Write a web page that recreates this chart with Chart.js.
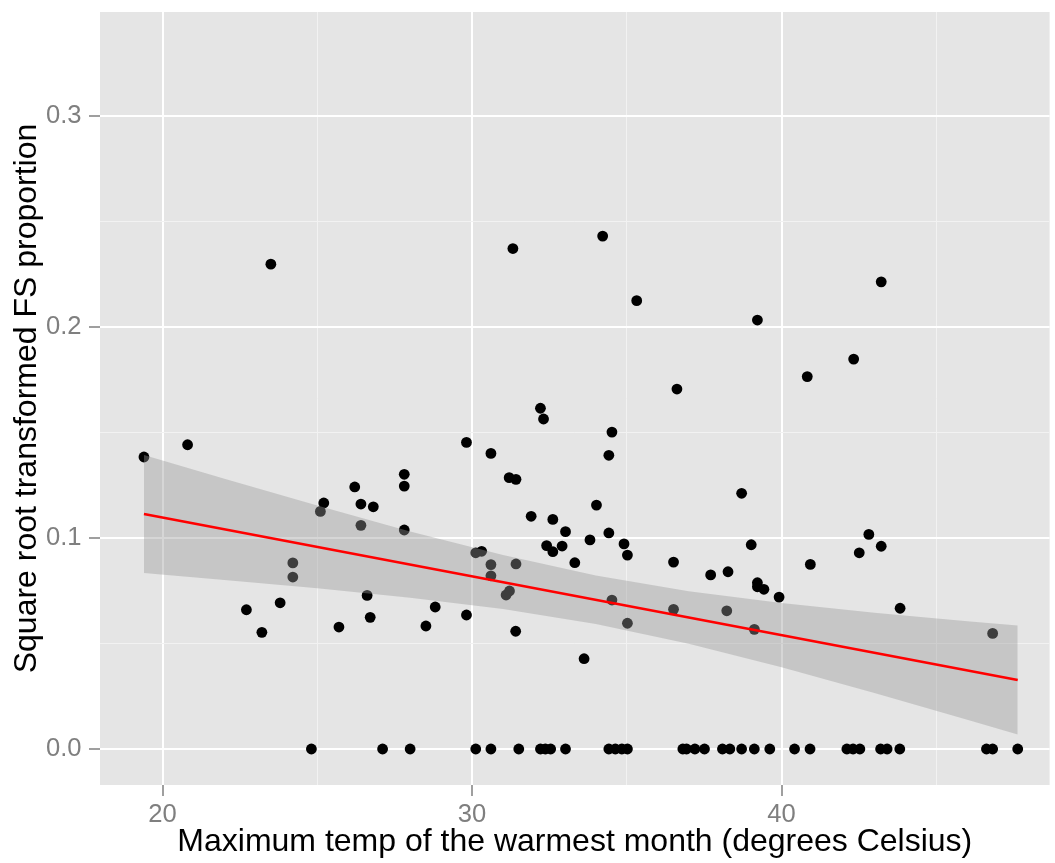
<!DOCTYPE html>
<html>
<head>
<meta charset="utf-8">
<script src="https://cdn.jsdelivr.net/npm/chart.js@4.4.1/dist/chart.umd.min.js"></script>
<style>
  html, body { margin: 0; padding: 0; background: #ffffff; }
  #wrap { width: 1055px; height: 863px; }
</style>
</head>
<body>
<div id="wrap"><canvas id="c" width="1055" height="863"></canvas></div>
<script>
// ---- Data ----
const pointX = [
  19.40, 20.81, 22.71, 23.21, 23.50, 23.80, 24.21, 24.21, 25.10, 25.21,
  25.70, 26.21, 26.41, 26.41, 26.61, 26.71, 26.81, 27.81, 27.81, 27.81,
  28.51, 28.81, 29.82, 29.82, 30.12, 30.31, 30.61, 30.61, 30.61, 31.10,
  31.21, 31.20, 31.42, 31.42, 31.41, 31.32, 31.91, 32.21, 32.31, 32.41,
  32.61, 32.61, 32.91, 33.02, 33.32, 33.62, 33.81, 34.02, 34.22, 34.42,
  34.42, 34.52, 34.52, 34.91, 35.02, 35.02, 35.32, 36.62, 36.51, 36.51,
  37.71, 38.27, 38.23, 38.71, 39.02, 39.12, 39.22, 39.22, 39.43, 39.22,
  39.92, 40.83, 40.93, 42.33, 42.51, 42.82, 43.22, 43.22, 43.83, 46.82,
  24.81, 27.11, 28.00, 30.12, 30.61, 31.51, 32.21, 32.37, 32.54, 33.02,
  34.42, 34.63, 34.84, 35.02, 36.81, 36.93, 37.20, 37.51, 38.09, 38.33,
  38.71, 39.12, 39.62, 40.42, 40.92, 42.11, 42.31, 42.53, 43.20, 43.41,
  43.82, 46.62, 46.82, 47.63
];
const pointY = [
  0.1384, 0.1442, 0.0660, 0.0553, 0.2298, 0.0693, 0.0882, 0.0815, 0.1126, 0.1166,
  0.0578, 0.1242, 0.1161, 0.1060, 0.0728, 0.0624, 0.1148, 0.1302, 0.1246, 0.1038,
  0.0583, 0.0673, 0.1453, 0.0635, 0.0930, 0.0937, 0.1401, 0.0874, 0.0821, 0.0730,
  0.0749, 0.1286, 0.1278, 0.0877, 0.0558, 0.2372, 0.1103, 0.1615, 0.1564, 0.0964,
  0.1088, 0.0935, 0.0962, 0.1030, 0.0883, 0.0428, 0.0991, 0.1156, 0.2431, 0.1392,
  0.1024, 0.1502, 0.0706, 0.0972, 0.0919, 0.0596, 0.2125, 0.1706, 0.0886, 0.0662,
  0.0825, 0.0840, 0.0655, 0.1212, 0.0968, 0.0567, 0.0788, 0.0769, 0.0757, 0.2033,
  0.0720, 0.1765, 0.0875, 0.1848, 0.0930, 0.1017, 0.0961, 0.2214, 0.0667, 0.0548,
  0, 0, 0, 0, 0, 0, 0, 0, 0, 0,
  0, 0, 0, 0, 0, 0, 0, 0, 0, 0,
  0, 0, 0, 0, 0, 0, 0, 0, 0, 0,
  0, 0, 0, 0
];
const fitX = [19.40, 47.63];
const fitY = [0.1114, 0.0327];
const bandX     = [19.40, 22.00, 25.00, 28.00, 31.00, 34.00, 37.00, 40.00, 43.00, 46.00, 47.63];
const bandUpper = [0.1394, 0.1281, 0.1154, 0.1031, 0.0919, 0.0822, 0.0748, 0.0692, 0.0646, 0.0605, 0.0585];
const bandLower = [0.0834, 0.0801, 0.0762, 0.0717, 0.0663, 0.0592, 0.0499, 0.0388, 0.0266, 0.0139, 0.0069];
const xTickValues = [20, 25, 30, 35, 40, 45];
const xTickLabels = ['20', '', '30', '', '40', ''];
const yTickValues = [0, 0.05, 0.1, 0.15, 0.2, 0.25, 0.3];
const yTickLabels = ['0.0', '', '0.1', '', '0.2', '', '0.3'];
const xTitle = 'Maximum temp of the warmest month (degrees Celsius)';
const yTitle = 'Square root transformed FS proportion';

// ---- Build datasets ----
const pts = pointX.map((x, i) => ({ x: x, y: pointY[i] }));
const fitPts = fitX.map((x, i) => ({ x: x, y: fitY[i] }));
const upPts = bandX.map((x, i) => ({ x: x, y: bandUpper[i] }));
const loPts = bandX.map((x, i) => ({ x: x, y: bandLower[i] }));

const FONT = "'Liberation Sans', Arial, Helvetica, sans-serif";
const GREY50 = '#7F7F7F';

const panelBg = {
  id: 'panelBg',
  beforeDraw(chart) {
    const a = chart.chartArea, ctx = chart.ctx;
    ctx.save();
    ctx.fillStyle = '#E5E5E5';
    ctx.fillRect(a.left, a.top, a.right - a.left, a.bottom - a.top);
    ctx.restore();
  }
};

function isMajor(labels, idx) { return labels[idx] !== ''; }

new Chart(document.getElementById('c'), {
  type: 'scatter',
  data: {
    datasets: [
      {
        type: 'line', data: fitPts, borderColor: '#FF0000', borderWidth: 2.6,
        pointRadius: 0, fill: false, order: 1, tension: 0
      },
      {
        type: 'line', data: upPts, borderWidth: 0, borderColor: 'rgba(0,0,0,0)',
        backgroundColor: 'rgba(153,153,153,0.4)', pointRadius: 0,
        fill: '+1', order: 2, tension: 0
      },
      {
        type: 'line', data: loPts, borderWidth: 0, borderColor: 'rgba(0,0,0,0)',
        pointRadius: 0, fill: false, order: 2, tension: 0
      },
      {
        type: 'scatter', data: pts, backgroundColor: '#000000', borderWidth: 0,
        pointRadius: 5.4, order: 3
      }
    ]
  },
  options: {
    responsive: false,
    animation: false,
    events: [],
    layout: { padding: { left: 0, right: 3, top: 12, bottom: 0 } },
    plugins: { legend: { display: false }, tooltip: { enabled: false } },
    scales: {
      x: {
        type: 'linear', min: 17.98, max: 48.66,
        afterBuildTicks(scale) { scale.ticks = xTickValues.map(v => ({ value: v })); },
        afterFit(scale) { scale.height = 78; scale.paddingLeft = 0; scale.paddingRight = 0; },
        border: { display: false },
        grid: {
          color: (c) => isMajor(xTickLabels, c.index) ? '#FFFFFF' : '#F2F2F2',
          lineWidth: (c) => isMajor(xTickLabels, c.index) ? 2 : 1,
          tickColor: (c) => isMajor(xTickLabels, c.index) ? GREY50 : 'rgba(0,0,0,0)',
          tickLength: 11, tickWidth: 1.5, drawOnChartArea: true
        },
        ticks: {
          autoSkip: false, maxRotation: 0, padding: 4,
          color: GREY50, font: { family: FONT, size: 25.6 },
          callback: (v, i) => xTickLabels[i]
        },
        title: {
          display: true, text: xTitle, color: '#000000',
          font: { family: FONT, size: 32 }, padding: { top: 0, bottom: 2 }
        }
      },
      y: {
        type: 'linear', min: -0.01706, max: 0.3493,
        afterBuildTicks(scale) { scale.ticks = yTickValues.map(v => ({ value: v })); },
        afterFit(scale) { scale.width = 100; scale.paddingTop = 0; scale.paddingBottom = 0; },
        border: { display: false },
        grid: {
          color: (c) => isMajor(yTickLabels, c.index) ? '#FFFFFF' : '#F2F2F2',
          lineWidth: (c) => isMajor(yTickLabels, c.index) ? 2 : 1,
          tickColor: (c) => isMajor(yTickLabels, c.index) ? GREY50 : 'rgba(0,0,0,0)',
          tickLength: 11, tickWidth: 1.5, drawOnChartArea: true
        },
        ticks: {
          padding: 7.5, color: GREY50, font: { family: FONT, size: 25.6 },
          callback: (v, i) => yTickLabels[i]
        },
        title: {
          display: true, text: yTitle, color: '#000000',
          font: { family: FONT, size: 32 }, padding: { top: 8, bottom: 0 }
        }
      }
    }
  },
  plugins: [panelBg]
});
</script>
</body>
</html>
